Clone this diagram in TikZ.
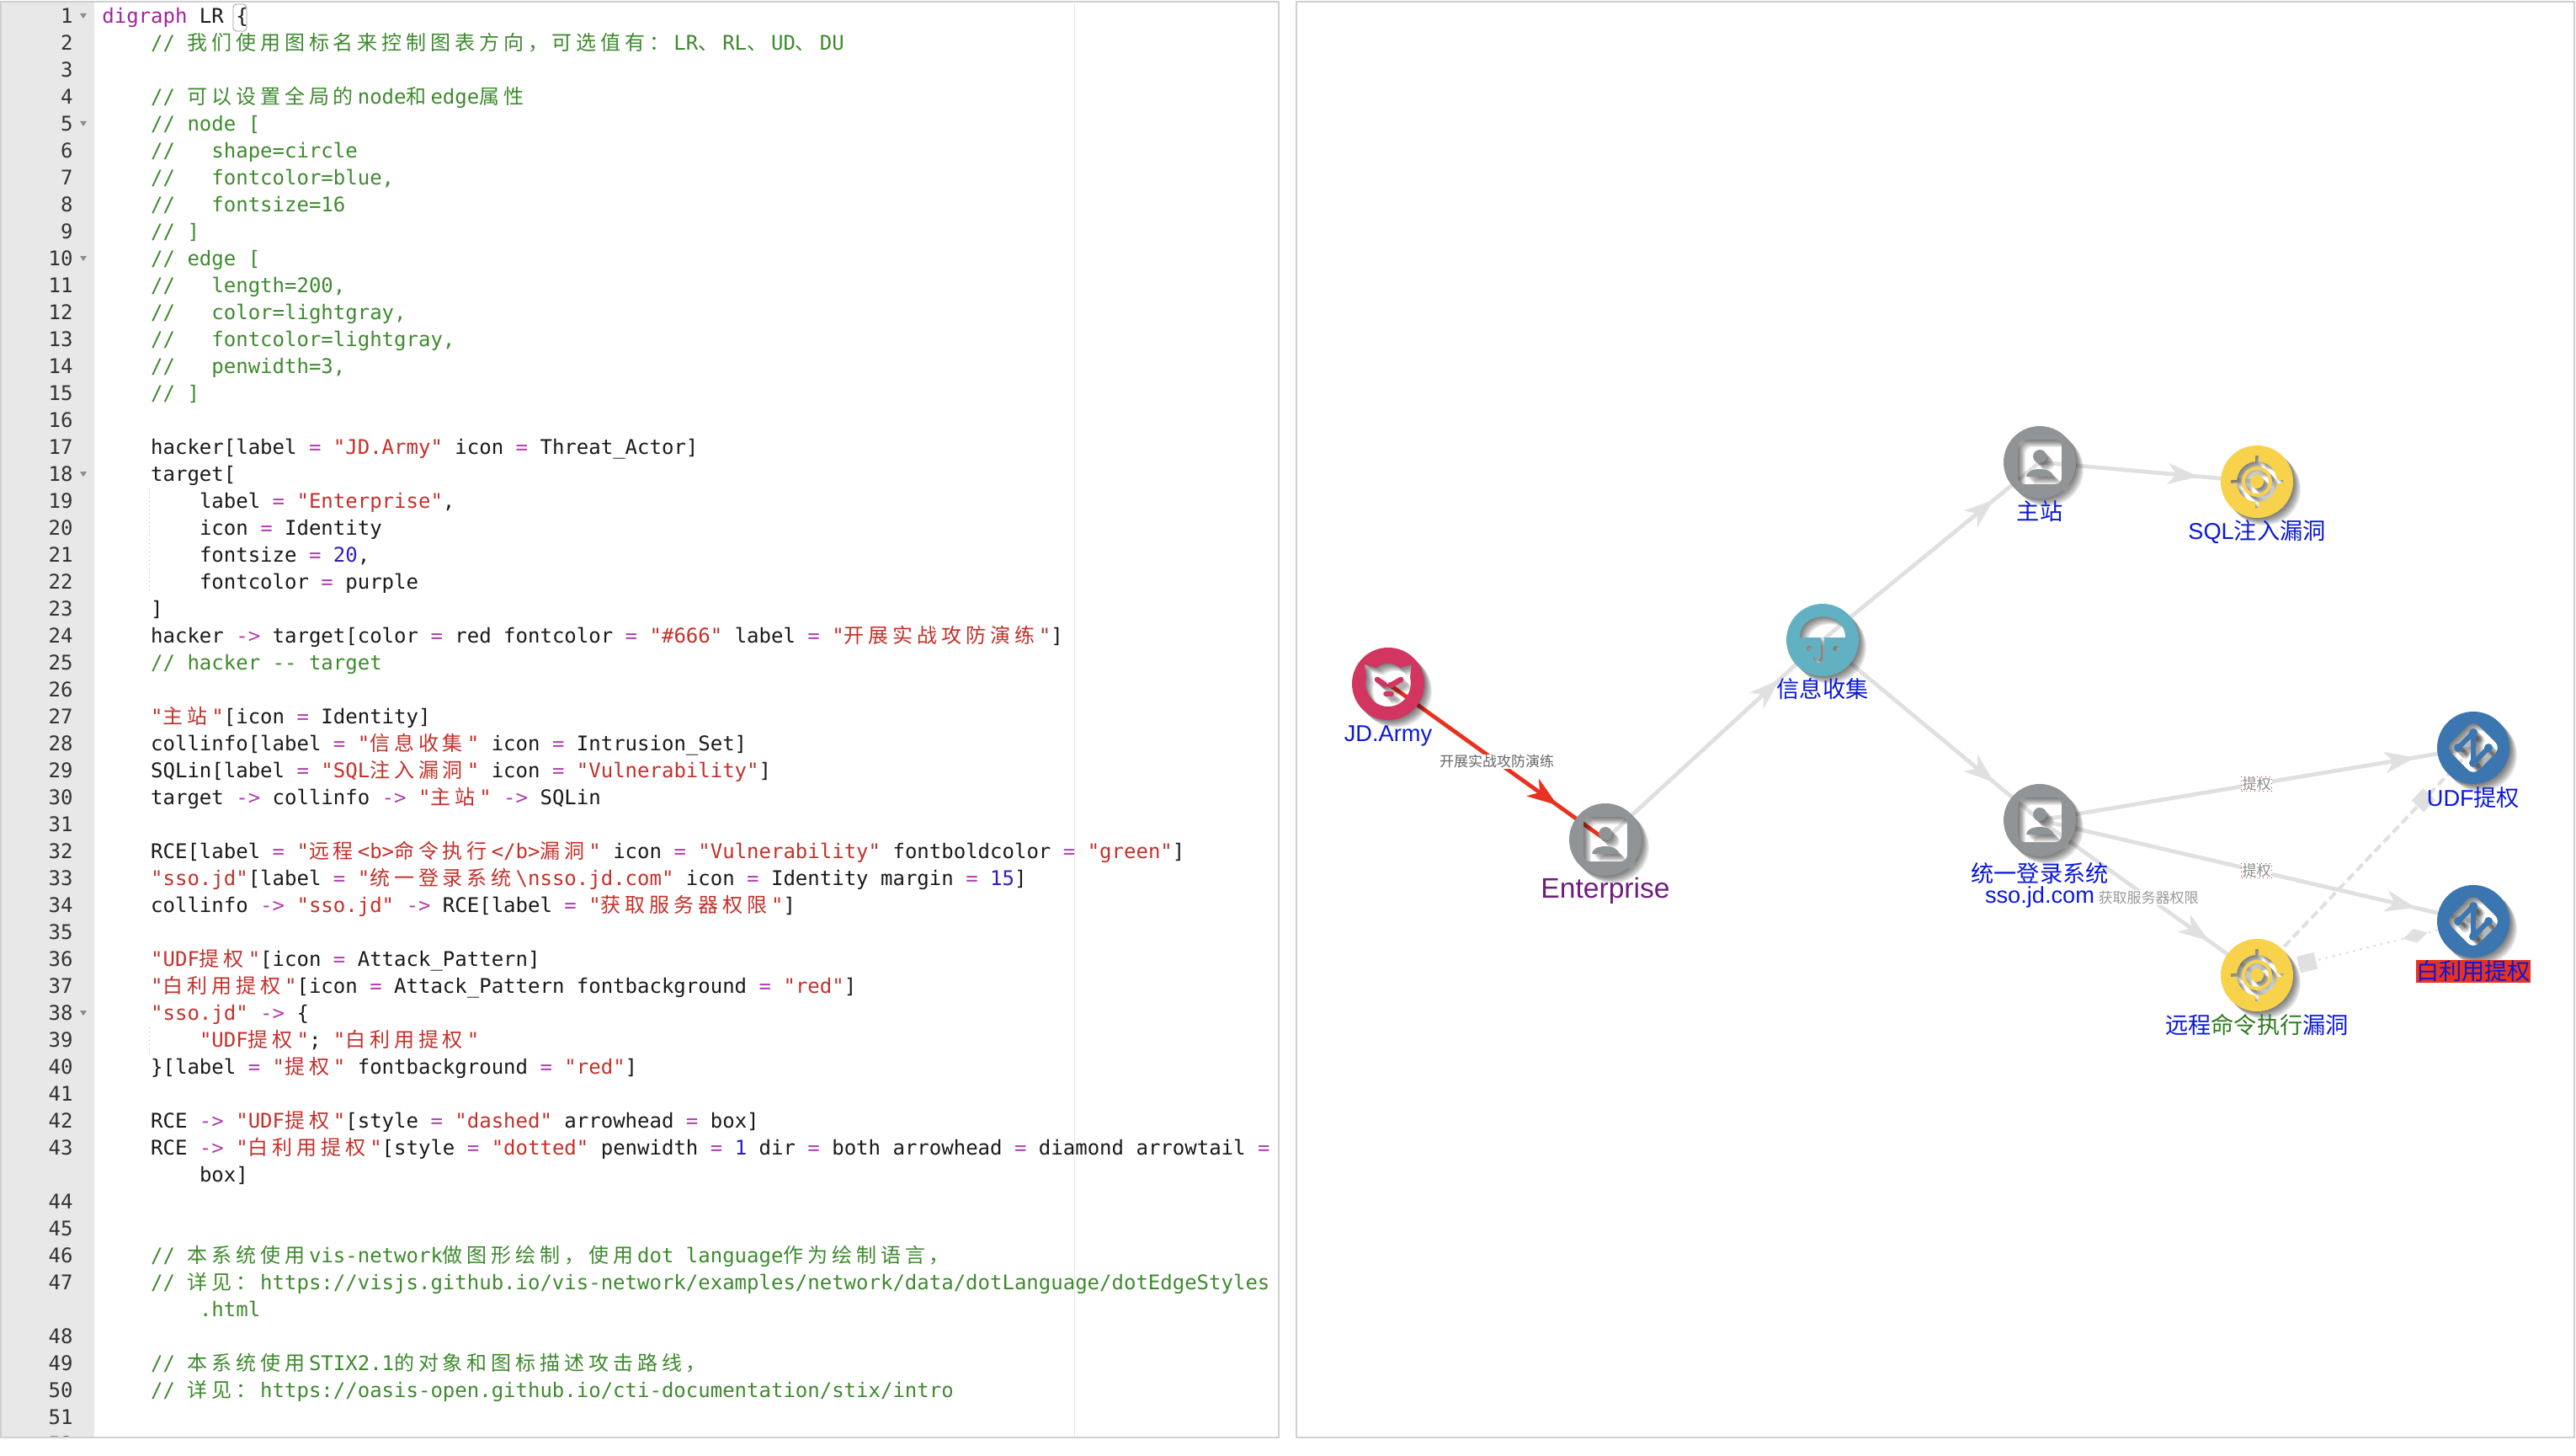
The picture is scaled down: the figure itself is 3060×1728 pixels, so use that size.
\documentclass[tikz,border=0pt]{standalone}
\usepackage{fontspec}
\setmainfont{Liberation Sans}
\setmonofont{DejaVu Sans Mono}
\newfontfamily\cjk[LetterSpace=20.4]{Noto Sans CJK SC}
\newfontfamily\cjklabel{Noto Sans CJK SC}
\usetikzlibrary{arrows.meta,calc,decorations.markings}
\definecolor{cmgreen}{HTML}{3E8A2E}
\definecolor{strred}{HTML}{C4302A}
\definecolor{oppurple}{HTML}{B23FB0}
\definecolor{kwpurple}{HTML}{A0249A}
\definecolor{numblue}{HTML}{2A1FC0}
\definecolor{guttergray}{HTML}{E8E8E8}
\definecolor{panelgray}{HTML}{D0D0D0}
\definecolor{edgegray}{HTML}{E0E0E0}
\definecolor{edgered}{HTML}{E8321F}
\definecolor{labelblue}{HTML}{0B18D8}
\definecolor{labelpurple}{HTML}{6F1E7E}
\definecolor{labelgreen}{HTML}{2F7A22}
\definecolor{actorred}{HTML}{D23560}
\definecolor{identgray}{HTML}{909496}
\definecolor{intrusionteal}{HTML}{62B1C3}
\definecolor{vulnyellow}{HTML}{F8D24A}
\definecolor{attackblue}{HTML}{3B76B0}
\colorlet{iconcol}{black}
\tikzset{>={Stealth[length=18pt,width=12.5pt,inset=5pt]}}
\tikzset{%
    ->-/.style={postaction={decorate},decoration={%
            markings,mark=at position #1 with {\arrow{>}}%
        }%
    },%
    ->-/.default=-35pt,%
    codeline/.style={anchor=base west,inner sep=0,font=\ttfamily\fontsize{12pt}{12pt}\selectfont\frenchspacing,text=black!90},%
    gutternum/.style={anchor=base east,inner sep=0,font=\ttfamily\fontsize{12pt}{12pt}\selectfont,text=black!80},%
    stixnode/.style={circle,minimum size=43pt,inner sep=0},%
    stixedge/.style={line width=2.4pt,draw=edgegray},%
    nodelabel/.style={anchor=base,inner sep=0,text=labelblue,font=\fontsize{13.6pt}{13.6pt}\selectfont},%
    edgelabel/.style={inner sep=.5pt,fill=white,text=black!60,font=\cjklabel\fontsize{8.5pt}{8.5pt}\selectfont},%
    uplabel/.style={edgelabel,text=black!45,draw=edgered,dash pattern=on .5pt off 2pt,line width=.5pt},%
}
\newcommand{\Cm}[1]{\textcolor{cmgreen}{#1}}
\newcommand{\Str}[1]{\textcolor{strred}{#1}}
\newcommand{\Eq}{\textcolor{oppurple}{=}}
\newcommand{\To}{\textcolor{oppurple}{->}}
\newcommand{\Nb}[1]{\textcolor{numblue}{#1}}
\newcommand{\zh}[1]{{\cjk #1}\kern2.45pt}
\newcommand{\Code}[3]{\node[codeline] (code#1) at (121+14.45*#2,27.5+32*#1) {#3};}
\newcommand{\StixIcon}[4]{%
  \begin{scope}[shift={(#1.center)}]
    \colorlet{iconcol}{black}
    \foreach \d in {1,...,9} {%
      \begin{scope}[shift={(\d,\d)},opacity=.07]
        \path[fill=black,even odd rule] (0,0) circle[radius=43] #3;
        #4
      \end{scope}
    }
    \colorlet{iconcol}{#2}
    \path[fill=#2,even odd rule] (0,0) circle[radius=43] #3;
    #4
  \end{scope}
}
\newcommand{\IdentHole}{[rounded corners=4pt] (-26,-27) rectangle (26,26)}
\newcommand{\IdentBits}{%
  \fill[iconcol] (0,-7) circle[radius=8];
  \fill[iconcol] (-16,17) .. controls (-16,5) and (16,5) .. (16,17) -- cycle;
}
\newcommand{\VulnHole}{(0,0) circle[radius=24] (-2,-31) rectangle (2,-24) (-2,24) rectangle (2,31) (-31,-2) rectangle (-24,2) (24,-2) rectangle (31,2)}
\newcommand{\VulnBits}{%
  \draw[iconcol,line width=2pt] (0,0) circle[radius=16];
  \fill[iconcol] (0,0) circle[radius=8];
}
\newcommand{\PatternHole}{[rounded corners=5pt] (0,-33) -- (33,0) -- (0,33) -- (-33,0) -- cycle}
\newcommand{\PatternBits}{%
  \draw[iconcol,line width=3pt,line join=round] (-18,0) -- (0,-18) -- (0,18) -- (18,0);
  \foreach \p in {(-18,0),(0,-18),(0,18),(18,0)} {\fill[iconcol] \p circle[radius=5];}
}
\begin{document}
\begin{tikzpicture}[x=.5pt,y=-.5pt]
  \useasboundingbox (0,0) rectangle (3060,1728);
  \fill[white] (0,0) rectangle (3060,1728);
  % editor
  \fill[guttergray] (2,2) rectangle (112,1706);
  \draw[guttergray,line width=.5pt] (1276,2) -- (1276,1706);
  \begin{scope}
    \clip (0,0) rectangle (1519,1706);
    \foreach \n in {1,...,52} {%
      \pgfmathtruncatemacro{\rowno}{\n-1+(\n>43)+(\n>47)}
      \node[gutternum] (num\n) at (87,27.5+32*\rowno) {\n};
    }
  \end{scope}
  \foreach \r in {0,4,9,17,37} {%
    \fill[black!45] (95,16+32*\r) -- (103,16+32*\r) -- (99,22+32*\r) -- cycle;
  }
  \draw[black!40,line width=.4pt,rounded corners=2pt] (277,5) rectangle (293,37);
  \draw[black!30,line width=.5pt,dotted] (177,580) -- (177,703);
  \draw[black!30,line width=.5pt,dotted] (177,1220) -- (177,1252);

  \Code{0}{0}{\textcolor{kwpurple}{digraph} LR \{}
  \Code{1}{4}{\Cm{// \zh{我们使用图标名来控制图表方向，可选值有：}LR\zh{、}RL\zh{、}UD\zh{、}DU}}
  \Code{3}{4}{\Cm{// \zh{可以设置全局的}node\zh{和}edge\zh{属性}}}
  \Code{4}{4}{\Cm{// node [}}
  \Code{5}{4}{\Cm{//~~~shape=circle}}
  \Code{6}{4}{\Cm{//~~~fontcolor=blue,}}
  \Code{7}{4}{\Cm{//~~~fontsize=16}}
  \Code{8}{4}{\Cm{// ]}}
  \Code{9}{4}{\Cm{// edge [}}
  \Code{10}{4}{\Cm{//~~~length=200,}}
  \Code{11}{4}{\Cm{//~~~color=lightgray,}}
  \Code{12}{4}{\Cm{//~~~fontcolor=lightgray,}}
  \Code{13}{4}{\Cm{//~~~penwidth=3,}}
  \Code{14}{4}{\Cm{// ]}}
  \Code{16}{4}{hacker[label \Eq{} \Str{"JD.Army"} icon \Eq{} Threat\_Actor]}
  \Code{17}{4}{target[}
  \Code{18}{8}{label \Eq{} \Str{"Enterprise"},}
  \Code{19}{8}{icon \Eq{} Identity}
  \Code{20}{8}{fontsize \Eq{} \Nb{20},}
  \Code{21}{8}{fontcolor \Eq{} purple}
  \Code{22}{4}{]}
  \Code{23}{4}{hacker \To{} target[color \Eq{} red fontcolor \Eq{} \Str{"\#666"} label \Eq{} \Str{"\zh{开展实战攻防演练}"}]}
  \Code{24}{4}{\Cm{// hacker -{}- target}}
  \Code{26}{4}{\Str{"\zh{主站}"}[icon \Eq{} Identity]}
  \Code{27}{4}{collinfo[label \Eq{} \Str{"\zh{信息收集}"} icon \Eq{} Intrusion\_Set]}
  \Code{28}{4}{SQLin[label \Eq{} \Str{"SQL\zh{注入漏洞}"} icon \Eq{} \Str{"Vulnerability"}]}
  \Code{29}{4}{target \To{} collinfo \To{} \Str{"\zh{主站}"} \To{} SQLin}
  \Code{31}{4}{RCE[label \Eq{} \Str{"\zh{远程}<b>\zh{命令执行}</b>\zh{漏洞}"} icon \Eq{} \Str{"Vulnerability"} fontboldcolor \Eq{} \Str{"green"}]}
  \Code{32}{4}{\Str{"sso.jd"}[label \Eq{} \Str{"\zh{统一登录系统}\textbackslash nsso.jd.com"} icon \Eq{} Identity margin \Eq{} \Nb{15}]}
  \Code{33}{4}{collinfo \To{} \Str{"sso.jd"} \To{} RCE[label \Eq{} \Str{"\zh{获取服务器权限}"}]}
  \Code{35}{4}{\Str{"UDF\zh{提权}"}[icon \Eq{} Attack\_Pattern]}
  \Code{36}{4}{\Str{"\zh{白利用提权}"}[icon \Eq{} Attack\_Pattern fontbackground \Eq{} \Str{"red"}]}
  \Code{37}{4}{\Str{"sso.jd"} \To{} \{}
  \Code{38}{8}{\Str{"UDF\zh{提权}"}; \Str{"\zh{白利用提权}"}}
  \Code{39}{4}{\}[label \Eq{} \Str{"\zh{提权}"} fontbackground \Eq{} \Str{"red"}]}
  \Code{41}{4}{RCE \To{} \Str{"UDF\zh{提权}"}[style \Eq{} \Str{"dashed"} arrowhead \Eq{} box]}
  \Code{42}{4}{RCE \To{} \Str{"\zh{白利用提权}"}[style \Eq{} \Str{"dotted"} penwidth \Eq{} \Nb{1} dir \Eq{} both arrowhead \Eq{} diamond arrowtail \Eq}
  \Code{43}{8}{box]}
  \Code{46}{4}{\Cm{// \zh{本系统使用}vis-network\zh{做图形绘制，使用}dot language\zh{作为绘制语言，}}}
  \Code{47}{4}{\Cm{// \zh{详见：}https://visjs.github.io/vis-network/examples/network/data/dotLanguage/dotEdgeStyles}}
  \Code{48}{8}{\Cm{.html}}
  \Code{50}{4}{\Cm{// \zh{本系统使用}STIX2.1\zh{的对象和图标描述攻击路线，}}}
  \Code{51}{4}{\Cm{// \zh{详见：}https://oasis-open.github.io/cti-documentation/stix/intro}}
  \draw[panelgray,line width=1pt] (1,2) rectangle (1519,1707);
  \draw[panelgray,line width=1pt] (1540,2) rectangle (3058,1707);

  % graph
  \node[stixnode] (hacker) at (1649,812) {};
  \node[stixnode] (target) at (1907,997) {};
  \node[stixnode] (collinfo) at (2165,760) {};
  \node[stixnode] (mainsite) at (2423,549) {};
  \node[stixnode] (SQLin) at (2681,572) {};
  \node[stixnode] (sso) at (2423,974) {};
  \node[stixnode] (RCE) at (2681,1158) {};
  \node[stixnode] (UDF) at (2938,888) {};
  \node[stixnode] (whiteuse) at (2938,1094) {};

  \draw[stixedge,draw=edgered,->-] (hacker.center) -- node[edgelabel] (drill) {开展实战攻防演练} (target.center);
  \draw[stixedge,->-] (target.center) -- (collinfo.center);
  \draw[stixedge,->-] (collinfo.center) -- (mainsite.center);
  \draw[stixedge,->-] (mainsite.center) -- (SQLin.center);
  \draw[stixedge,->-] (collinfo.center) -- (sso.center);
  \draw[stixedge,->-] (sso.center) -- node[edgelabel,text=black!40] (getperm) {获取服务器权限} (RCE.center);
  \draw[stixedge,->-] (sso.center) -- node[uplabel] (upa) {提权} (UDF.center);
  \draw[stixedge,->-] (sso.center) -- node[uplabel] (upb) {提权} (whiteuse.center);
  \draw[stixedge,line width=2pt,dash pattern=on 5.2pt off 2.6pt,
    postaction={decorate},decoration={markings,mark=at position -38pt with {\arrow{Square[length=10pt,width=10pt]}}}]
    (RCE.center) -- (UDF.center);
  \draw[stixedge,line width=1.2pt,dash pattern=on 1.2pt off 3pt,
    postaction={decorate},decoration={markings,
      mark=at position 36pt with {\arrow{Square[length=10.5pt,width=10pt]}},
      mark=at position -28pt with {\arrow{Turned Square[length=15pt,width=8.5pt]}}}]
    (RCE.center) -- (whiteuse.center);

  \StixIcon{hacker}{actorred}{(-28,-23) -- (-14,-19) .. controls (-6,-26) and (6,-26) .. (14,-19) -- (28,-23) -- (26,-8) .. controls (30,10) and (18,27) .. (0,27) .. controls (-18,27) and (-30,10) .. (-26,-8) -- cycle}{%
    \draw[iconcol,line width=3.3pt,line cap=round] (-13,-5) -- (-4,1);
    \draw[iconcol,line width=3.3pt,line cap=round] (15,-5) -- (3,2);
    \draw[iconcol,line width=2.8pt,line cap=round] (-3,12) -- (4,12);
  }
  \StixIcon{target}{identgray}{\IdentHole}{\IdentBits}
  \StixIcon{collinfo}{intrusionteal}{(-27,-3) .. controls (-27,-36) and (27,-36) .. (27,-3) -- cycle
    (-2,-3) -- (2,-3) -- (2,21) .. controls (2,29) and (-11,29) .. (-11,20) -- (-8,20) .. controls (-8,25) and (-2,25) .. (-2,20) -- cycle
    (-16,10) circle[radius=3.5] (16,10) circle[radius=3.5]}{}
  \StixIcon{mainsite}{identgray}{\IdentHole}{\IdentBits}
  \StixIcon{SQLin}{vulnyellow}{\VulnHole}{\VulnBits}
  \StixIcon{sso}{identgray}{\IdentHole}{\IdentBits}
  \StixIcon{RCE}{vulnyellow}{\VulnHole}{\VulnBits}
  \StixIcon{UDF}{attackblue}{\PatternHole}{\PatternBits}
  \StixIcon{whiteuse}{attackblue}{\PatternHole}{\PatternBits}

  \node[nodelabel] (hackerlab) at ($(hacker.center)+(0,68)$) {JD.Army};
  \node[nodelabel,text=labelpurple,font=\fontsize{16.8pt}{16.8pt}\selectfont] (targetlab) at ($(target.center)+(0,69)$) {Enterprise};
  \node[nodelabel,font=\cjklabel\fontsize{13.6pt}{13.6pt}\selectfont] (collinfolab) at ($(collinfo.center)+(0,68)$) {信息收集};
  \node[nodelabel,font=\cjklabel\fontsize{13.6pt}{13.6pt}\selectfont] (mainsitelab) at ($(mainsite.center)+(0,68)$) {主站};
  \node[nodelabel] (SQLinlab) at ($(SQLin.center)+(0,68)$) {SQL{\cjklabel 注入漏洞}};
  \node[nodelabel,font=\cjklabel\fontsize{13.6pt}{13.6pt}\selectfont] (ssolab) at ($(sso.center)+(0,73)$) {统一登录系统};
  \node[nodelabel] (ssolabb) at ($(sso.center)+(0,98)$) {sso.jd.com};
  \node[nodelabel,font=\cjklabel\fontsize{13.6pt}{13.6pt}\selectfont] (RCElab) at ($(RCE.center)+(0,69)$) {远程\textcolor{labelgreen}{命令执行}漏洞};
  \node[nodelabel] (UDFlab) at ($(UDF.center)+(0,69)$) {UDF{\cjklabel 提权}};
  \node[nodelabel,fill=edgered,text height=11.5pt,text depth=2pt,font=\cjklabel\fontsize{13.6pt}{13.6pt}\selectfont] (whiteuselab) at ($(whiteuse.center)+(0,69)$) {白利用提权};
\end{tikzpicture}
\end{document}
